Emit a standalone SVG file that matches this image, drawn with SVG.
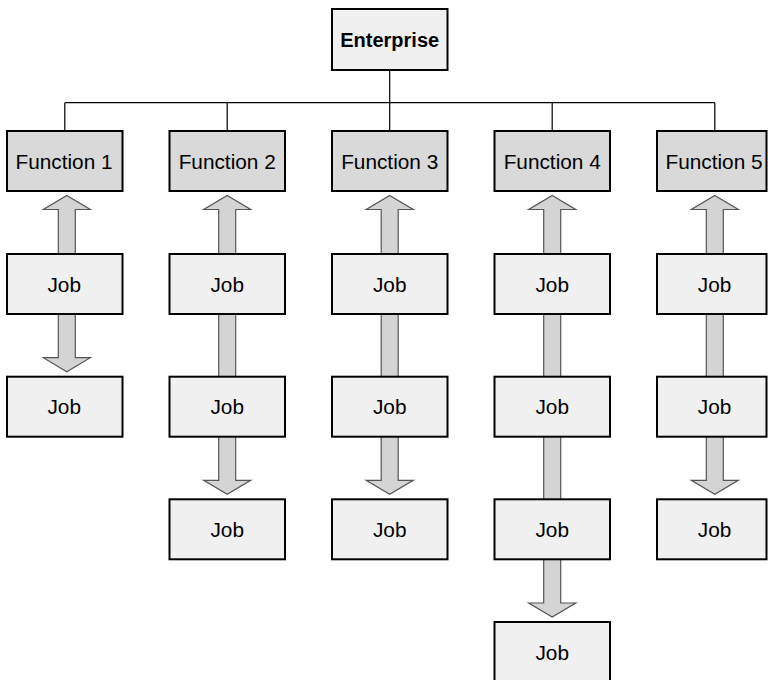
<svg xmlns="http://www.w3.org/2000/svg" width="768" height="680" viewBox="0 0 768 680">
  <style>
    .box { stroke: #000; stroke-width: 2; }
    .fn { fill: #d9d9d9; }
    .job { fill: #f0f0f0; }
    .ent { fill: #f0f0f0; }
    .lbl { font-family: "Liberation Sans", Arial, sans-serif; font-size: 20.8px; fill: #000; text-anchor: middle; }
    .bold { font-weight: bold; font-size: 20px; }
    .tree { stroke: #000; stroke-width: 1.2; fill: none; }
    .arrow { fill: #d4d4d4; stroke: #555; stroke-width: 1.2; stroke-linejoin: miter; }
  </style>

  <!-- connectors: org-chart tree and double-headed job arrows -->
  <g id="connectors">
    <path class="tree" d="M389.7 70 V102.7 M64.8 102.7 H714.8 M64.8 102.7 V131 M227.2 102.7 V131 M389.7 102.7 V131 M552.2 102.7 V131 M714.8 102.7 V131"/>
    <!-- column 1: function to job 2 -->
    <polygon class="arrow" points="66.8,195.5 90.3,209.5 75.3,209.5 75.3,357.7 90.3,357.7 66.8,371.7 43.3,357.7 58.3,357.7 58.3,209.5 43.3,209.5"/>
    <!-- column 2: function to job 3 -->
    <polygon class="arrow" points="227.2,195.5 250.7,209.5 235.7,209.5 235.7,480.3 250.7,480.3 227.2,494.3 203.7,480.3 218.7,480.3 218.7,209.5 203.7,209.5"/>
    <!-- column 3 -->
    <polygon class="arrow" points="389.7,195.5 413.2,209.5 398.2,209.5 398.2,480.3 413.2,480.3 389.7,494.3 366.2,480.3 381.2,480.3 381.2,209.5 366.2,209.5"/>
    <!-- column 4: function to job 4 -->
    <polygon class="arrow" points="552.2,195.5 575.7,209.5 560.7,209.5 560.7,603 575.7,603 552.2,617 528.7,603 543.7,603 543.7,209.5 528.7,209.5"/>
    <!-- column 5 -->
    <polygon class="arrow" points="714.8,195.5 738.3,209.5 723.3,209.5 723.3,480.3 738.3,480.3 714.8,494.3 691.3,480.3 706.3,480.3 706.3,209.5 691.3,209.5"/>
  </g>

  <g id="enterprise">
    <rect class="box ent" x="332" y="9" width="115.5" height="61"/>
    <text class="lbl bold" x="389.7" y="46.5">Enterprise</text>
  </g>

  <g id="function1"><rect class="box fn" x="7" y="131" width="115.5" height="60"/><text class="lbl" x="64" y="168.7">Function 1</text></g>
  <g id="function2"><rect class="box fn" x="169.5" y="131" width="115.5" height="60"/><text class="lbl" x="227.2" y="168.7">Function 2</text></g>
  <g id="function3"><rect class="box fn" x="332" y="131" width="115.5" height="60"/><text class="lbl" x="389.7" y="168.7">Function 3</text></g>
  <g id="function4"><rect class="box fn" x="494.5" y="131" width="115.5" height="60"/><text class="lbl" x="552.2" y="168.7">Function 4</text></g>
  <g id="function5"><rect class="box fn" x="657" y="131" width="109.5" height="60"/><text class="lbl" x="714" y="168.7">Function 5</text></g>

  <!-- job rows -->
  <g id="job1-1"><rect class="box job" x="7" y="254" width="115.5" height="60"/><text class="lbl" x="64.2" y="291.7">Job</text></g>
  <g id="job1-2"><rect class="box job" x="7" y="376.7" width="115.5" height="60"/><text class="lbl" x="64.2" y="414.4">Job</text></g>

  <g id="job2-1"><rect class="box job" x="169.5" y="254" width="115.5" height="60"/><text class="lbl" x="227.2" y="291.7">Job</text></g>
  <g id="job2-2"><rect class="box job" x="169.5" y="376.7" width="115.5" height="60"/><text class="lbl" x="227.2" y="414.4">Job</text></g>
  <g id="job2-3"><rect class="box job" x="169.5" y="499.3" width="115.5" height="60"/><text class="lbl" x="227.2" y="537">Job</text></g>

  <g id="job3-1"><rect class="box job" x="332" y="254" width="115.5" height="60"/><text class="lbl" x="389.7" y="291.7">Job</text></g>
  <g id="job3-2"><rect class="box job" x="332" y="376.7" width="115.5" height="60"/><text class="lbl" x="389.7" y="414.4">Job</text></g>
  <g id="job3-3"><rect class="box job" x="332" y="499.3" width="115.5" height="60"/><text class="lbl" x="389.7" y="537">Job</text></g>

  <g id="job4-1"><rect class="box job" x="494.5" y="254" width="115.5" height="60"/><text class="lbl" x="552.2" y="291.7">Job</text></g>
  <g id="job4-2"><rect class="box job" x="494.5" y="376.7" width="115.5" height="60"/><text class="lbl" x="552.2" y="414.4">Job</text></g>
  <g id="job4-3"><rect class="box job" x="494.5" y="499.3" width="115.5" height="60"/><text class="lbl" x="552.2" y="537">Job</text></g>
  <g id="job4-4"><rect class="box job" x="494.5" y="622" width="115.5" height="60"/><text class="lbl" x="552.2" y="659.7">Job</text></g>

  <g id="job5-1"><rect class="box job" x="657" y="254" width="109.5" height="60"/><text class="lbl" x="714.5" y="291.7">Job</text></g>
  <g id="job5-2"><rect class="box job" x="657" y="376.7" width="109.5" height="60"/><text class="lbl" x="714.5" y="414.4">Job</text></g>
  <g id="job5-3"><rect class="box job" x="657" y="499.3" width="109.5" height="60"/><text class="lbl" x="714.5" y="537">Job</text></g>
</svg>
